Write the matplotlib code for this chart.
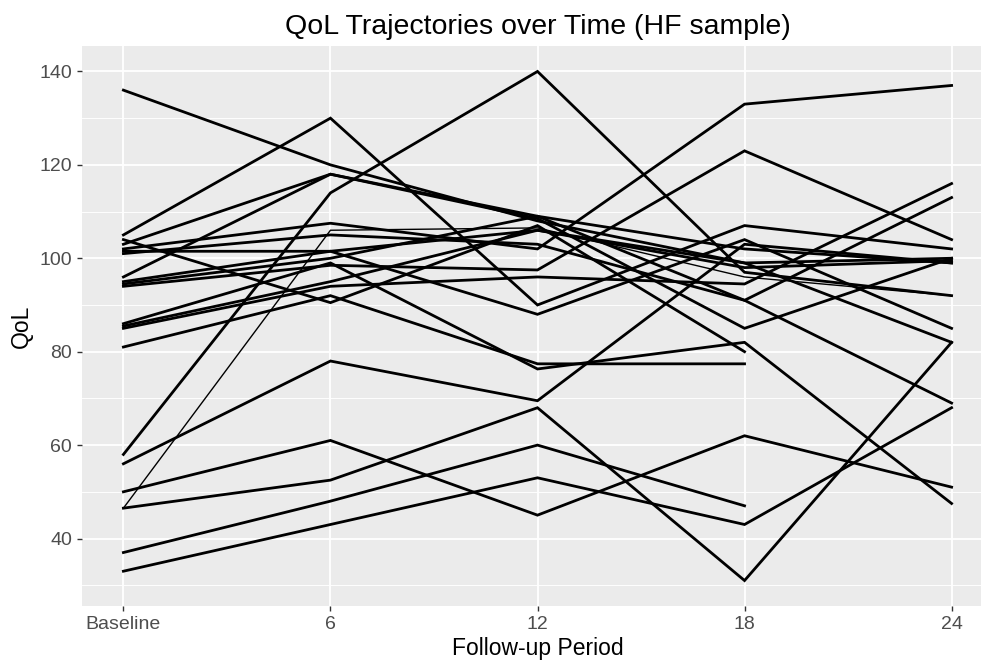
import numpy as np
import matplotlib
matplotlib.use("Agg")
import matplotlib.pyplot as plt

# follow-up periods (months) and tick labels
periods = [0, 6, 12, 18, 24]
period_labels = ["Baseline", "6", "12", "18", "24"]

# QoL score per patient at each follow-up (nan = missing visit)
nan = np.nan
qol_p01 = [136, 120, 108, 99, 100]
qol_p02 = [105, 130, 90, 107, 102]
qol_p03 = [104, 90.5, 107, 80, nan]
qol_p04 = [58, 114, 140, 97, 92]
qol_p05 = [103, 118, 109, 91, 113]
qol_p06 = [96, 118, 108.5, 85, 100]
qol_p07 = [102, 107.5, 102, 133, 137]
qol_p08 = [94, 98.5, 97.5, 123, 104]
qol_p09 = [85, 94, 96, 94.5, 116]
qol_p10 = [101.5, 101.5, 106, 98, 99.5]
qol_p11 = [95, 101.5, 88, 104, 85]
qol_p12 = [86, 99, 76.3, 82, 47.5]
qol_p13 = [81, 92, 77.4, 77.4, nan]
qol_p14 = [56, 78, 69.5, 103, 99]
qol_p15 = [46.5, 106, 106.5, 96, 92]
qol_p16 = [46.5, 52.5, 68, 31, 82]
qol_p17 = [50, 61, 45, 62, 51]
qol_p18 = [37, 48, 60, 47, nan]
qol_p19 = [33, 43, 53, 43, 68]
qol_p20 = [101, 105, 103, 91, 69]
qol_p21 = [94.5, 100, 109, 102, 99]
qol_p22 = [85.5, 95, 106, 99, 82]

patients = [qol_p01, qol_p02, qol_p03, qol_p04, qol_p05, qol_p06, qol_p07,
            qol_p08, qol_p09, qol_p10, qol_p11, qol_p12, qol_p13, qol_p14,
            qol_p15, qol_p16, qol_p17, qol_p18, qol_p19, qol_p20, qol_p21,
            qol_p22]
thin_patient = 14  # drawn lighter in the original

plt.rcParams["font.family"] = ["Liberation Sans", "DejaVu Sans"]

fig = plt.figure(figsize=(9.81, 6.71), dpi=100)
ax = fig.add_axes([82 / 981, 1 - 606 / 671, 911 / 981, 560 / 671])
ax.set_facecolor("#EBEBEB")

xpos = np.arange(len(periods))
for i, vals in enumerate(patients):
    lw = 1.0 if i == thin_patient else 2.0
    ax.plot(xpos, vals, color="black", lw=lw, solid_joinstyle="miter", zorder=3)

ax.set_xlim(-0.2, len(periods) - 1 + 0.2)
ax.set_ylim(25.55, 145.45)

ax.set_yticks([40, 60, 80, 100, 120, 140])
ax.set_yticks([30, 50, 70, 90, 110, 130], minor=True)
ax.set_xticks(xpos)
ax.set_xticklabels(period_labels)

ax.grid(which="major", color="white", lw=1.3, zorder=1)
ax.grid(which="minor", axis="y", color="white", lw=0.65, zorder=1)
ax.set_axisbelow(True)
for s in ax.spines.values():
    s.set_visible(False)

ax.tick_params(which="major", length=3.6, width=1.0, color="#333333",
               labelcolor="#4D4D4D", labelsize=14, pad=3.5)
ax.tick_params(which="minor", length=0)

ax.set_xlabel("Follow-up Period", fontsize=16.5, labelpad=3)
ax.set_ylabel("QoL", fontsize=16.5, labelpad=5)
ax.set_title("QoL Trajectories over Time (HF sample)", fontsize=20.5, pad=9)

fig.savefig("out.png", dpi=100)
